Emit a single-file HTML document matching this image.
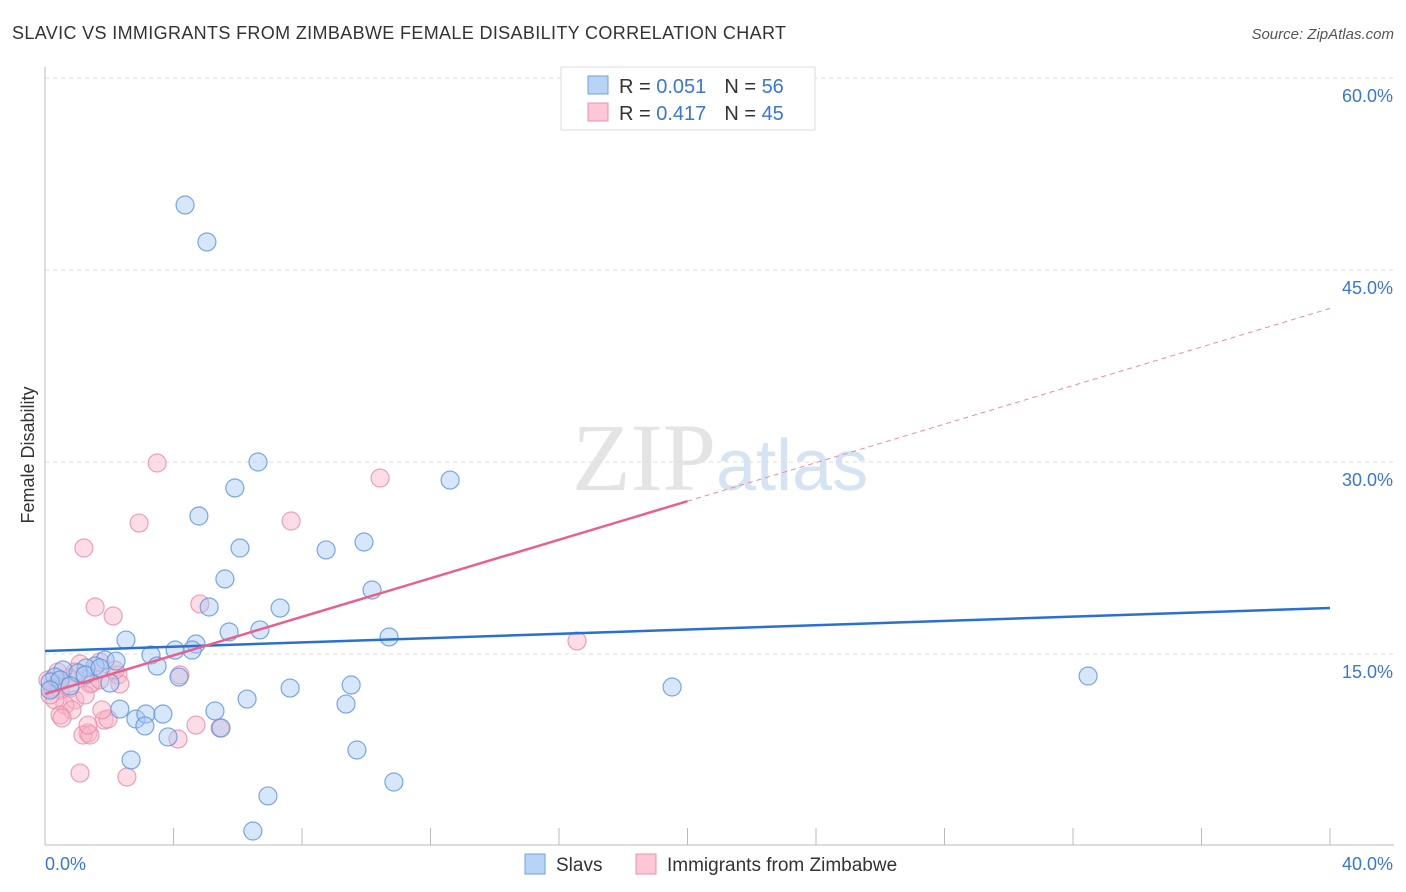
<!DOCTYPE html>
<html><head><meta charset="utf-8"><style>
body{margin:0;background:#fff;font-family:"Liberation Sans",sans-serif;}
svg{display:block}
</style></head><body>
<svg id="c" width="1406" height="892">
<text x="12" y="39" font-size="18" fill="#333" textLength="774" lengthAdjust="spacing">SLAVIC VS IMMIGRANTS FROM ZIMBABWE FEMALE DISABILITY CORRELATION CHART</text>
<text x="1394" y="39" font-size="15" fill="#555" font-style="italic" text-anchor="end">Source: ZipAtlas.com</text>
<text x="716" y="490" font-size="96" fill="#e4e4e4" text-anchor="end" font-family="Liberation Serif,serif">ZIP</text>
<text x="716" y="490" font-size="72" fill="#d6e3f3">atlas</text>
<text transform="translate(34,455) rotate(-90)" font-size="18" fill="#333" text-anchor="middle">Female Disability</text>
<g id="grid"></g><g id="marks"></g>
<g>
<rect x="561" y="67" width="254" height="63" fill="#fff" stroke="#ddd"/>
<rect x="588" y="76" width="20" height="18" fill="#b8d3f5" stroke="#6ea0e0"/>
<rect x="588" y="103" width="20" height="18" fill="#fcc8d8" stroke="#ee8fae"/>
<text x="619" y="93" font-size="20" fill="#333">R = <tspan fill="#3a76d4">0.051</tspan><tspan dx="18">N = </tspan><tspan fill="#3a76d4">56</tspan></text>
<text x="619" y="120" font-size="20" fill="#333">R = <tspan fill="#3a76d4">0.417</tspan><tspan dx="18">N = </tspan><tspan fill="#3a76d4">45</tspan></text>
</g>
<g>
<rect x="525" y="854" width="20" height="20" fill="#b8d3f5" stroke="#6ea0e0"/>
<text x="556" y="871" font-size="19" fill="#333">Slavs</text>
<rect x="636" y="854" width="20" height="20" fill="#fcc8d8" stroke="#ee8fae"/>
<text x="667" y="871" font-size="19" fill="#333">Immigrants from Zimbabwe</text>
</g>
</svg>
<script>
const xTicks=[0,40];
const yTicks=[15,30,45,60];
const slavX=[],slavY=[],zimX=[],zimY=[];
const slavPx=[[185,205],[207,242],[258,462],[235,488],[450,480],[199,516],[240,548],[326,550],[364,542],[225,579],[372,590],[209,607],[280,608],[229,632],[260,630],[126,640],[389,637],[196,644],[192,650],[175,650],[151,655],[157,666],[105,660],[116,661],[95,666],[86,668],[63,670],[55,677],[50,682],[60,680],[78,673],[110,683],[179,677],[290,688],[351,685],[1088,676],[672,687],[120,709],[136,719],[146,714],[163,714],[145,726],[247,699],[215,711],[221,728],[346,704],[168,737],[357,750],[131,760],[394,782],[268,796],[253,831],[50,690],[70,686],[85,675],[100,668]];
const zimPx=[[157,463],[380,478],[139,523],[291,521],[84,548],[95,607],[113,616],[200,604],[577,641],[80,664],[100,662],[118,675],[180,675],[52,688],[60,690],[70,688],[90,684],[75,700],[65,705],[55,700],[50,695],[92,683],[120,684],[72,710],[60,715],[62,718],[88,733],[83,735],[90,735],[104,720],[108,719],[88,725],[196,725],[220,728],[178,739],[80,773],[127,777],[48,680],[75,672],[100,680],[115,670],[68,678],[58,672],[85,695],[102,710]];
slavPx.forEach(p=>{slavX.push(+((p[0]-45)/1285*40).toFixed(2));slavY.push(+((846-p[1])*15/192).toFixed(2));});
zimPx.forEach(p=>{zimX.push(+((p[0]-45)/1285*40).toFixed(2));zimY.push(+((846-p[1])*15/192).toFixed(2));});
const slavTrend=[15.23,18.59];
const zimTrend=[11.88,42.0];
const X=v=>45+v/40*1285, Y=v=>846-v/15*192;
const NS="http://www.w3.org/2000/svg";
function mk(t,a,parent){const e=document.createElementNS(NS,t);for(const k in a)e.setAttribute(k,a[k]);parent.appendChild(e);return e;}
const g=document.getElementById('grid'), m=document.getElementById('marks');
yTicks.forEach(v=>{
 const l=mk('line',{x1:45,x2:1394,y1:Y(v),y2:Y(v),stroke:'#ddd','stroke-dasharray':'4,4'},g);
 
 
 const t=mk('text',{x:1393,y:Y(v)+24,'font-size':18,fill:'#3a76d4','text-anchor':'end'},g);t.textContent=v.toFixed(1)+'%';
 
 
});
const ax=mk('line',{x1:45,x2:1394,y1:845,y2:845,stroke:'#bbb'},g);


const ay=mk('line',{x1:45,x2:45,y1:67,y2:845,stroke:'#bbb'},g);


for(let i=0;i<=10;i++){const tk=mk('line',{x1:X(i*4),x2:X(i*4),y1:828,y2:845,stroke:'#bbb'},g);
 
 }
xTicks.forEach((v,i)=>{const t=mk('text',{x:i?1393:45,y:870,'font-size':18,fill:'#3a76d4','text-anchor':i?'end':'start'},g);t.textContent=v.toFixed(1)+'%';
 
 });
function dots(xs,ys,fill,stroke,name){xs.forEach((x,i)=>{const c=mk('circle',{cx:X(x),cy:Y(ys[i]),r:9,fill:fill,'fill-opacity':0.45,stroke:stroke,'stroke-opacity':0.8,'stroke-width':1.2},m);
 
 });}
dots(zimX,zimY,'#f8b4c8','#ec8aa9','zimbabwe-point');
dots(slavX,slavY,'#a9c8f2','#5a93dd','slavs-point');
const bl=mk('line',{x1:X(0),y1:Y(slavTrend[0]),x2:X(40),y2:Y(slavTrend[1]),stroke:'#2a6fd6','stroke-width':2.5},m);


const zAt=x=>zimTrend[0]+(zimTrend[1]-zimTrend[0])*x/40;
const pl=mk('line',{x1:X(0),y1:Y(zAt(0)),x2:X(20),y2:Y(zAt(20)),stroke:'#e8608d','stroke-width':2.5},m);


const pd=mk('line',{x1:X(20),y1:Y(zAt(20)),x2:X(40),y2:Y(zAt(40)),stroke:'#eb8aa9','stroke-width':1,'stroke-dasharray':'5,4'},m);


</script>
</body></html>
